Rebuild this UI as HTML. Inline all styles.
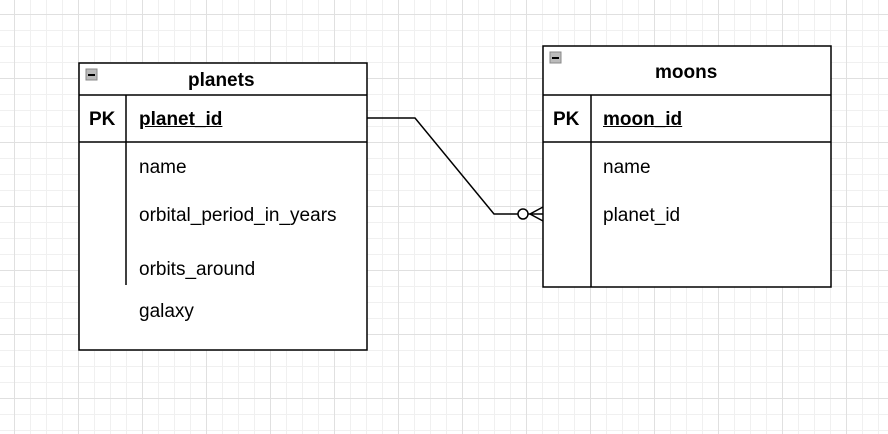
<!DOCTYPE html>
<html><head><style>
body{margin:0;width:888px;height:434px;overflow:hidden;background:#fff;
background-image:linear-gradient(#e0e0e0 1px,transparent 1px),linear-gradient(90deg,#e0e0e0 1px,transparent 1px),linear-gradient(#f0f0f0 1px,transparent 1px),linear-gradient(90deg,#f0f0f0 1px,transparent 1px);
background-size:64px 64px,64px 64px,16px 16px,16px 16px;background-position:14px 14px,14px 14px,14px 14px,14px 14px;
font-family:"Liberation Sans",sans-serif;position:relative}
.t{position:absolute;font-size:19px;color:#000;line-height:22px}
.b{font-weight:bold}
</style></head><body>
<svg width="888" height="434" style="position:absolute;left:0;top:0">
<g stroke="#000" stroke-width="1.5" fill="#fff">
<rect x="79" y="63" width="288" height="287"/>
<line x1="79" y1="95" x2="367" y2="95"/>
<line x1="79" y1="142" x2="367" y2="142"/>
<line x1="126" y1="95" x2="126" y2="285"/>
<rect x="543" y="46" width="288" height="241"/>
<line x1="543" y1="95" x2="831" y2="95"/>
<line x1="543" y1="142" x2="831" y2="142"/>
<line x1="591" y1="95" x2="591" y2="287"/>
<polyline points="367,118 415,118 494,214 518,214" fill="none"/>
<circle cx="523" cy="214" r="5"/>
<polyline points="543,207 530,214 543,221" fill="none"/>
<line x1="528" y1="214" x2="543" y2="214"/>
</g>
<g>
<rect x="86" y="69" width="11" height="11" fill="#bbb" stroke="#888"/>
<line x1="88" y1="75" x2="95" y2="75" stroke="#000" stroke-width="2"/>
<rect x="550" y="52" width="11" height="11" fill="#bbb" stroke="#888"/>
<line x1="552" y1="58" x2="559" y2="58" stroke="#000" stroke-width="2"/>
</g>
</svg>
<div class="t b" style="left:188px;top:70px">planets</div>
<div class="t b" style="left:89px;top:109px">PK</div>
<div class="t b" style="left:139px;top:109px;text-decoration:underline">planet_id</div>
<div class="t" style="left:139px;top:157px">name</div>
<div class="t" style="left:139px;top:205px">orbital_period_in_years</div>
<div class="t" style="left:139px;top:259px">orbits_around</div>
<div class="t" style="left:139px;top:301px">galaxy</div>
<div class="t b" style="left:655px;top:62px">moons</div>
<div class="t b" style="left:553px;top:109px">PK</div>
<div class="t b" style="left:603px;top:109px;text-decoration:underline">moon_id</div>
<div class="t" style="left:603px;top:157px">name</div>
<div class="t" style="left:603px;top:205px">planet_id</div>
</body></html>
